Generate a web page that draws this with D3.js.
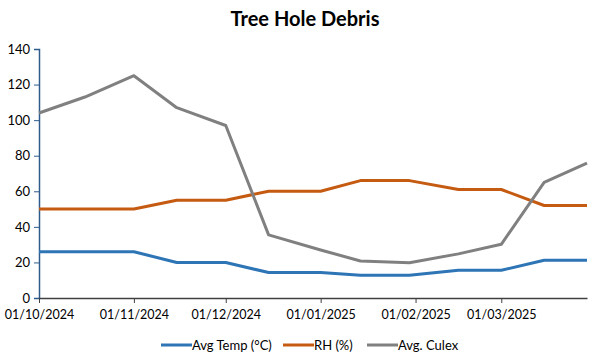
<!DOCTYPE html>
<html lang="en">
<head>
    <meta charset="UTF-8">
    <title>Tree Hole Debris</title>
    <script src="https://cdn.jsdelivr.net/npm/d3@7"></script>
    <style>
        body { margin: 0; background: #fff; }
        text { font-family: Lato, "Open Sans", sans-serif; fill: #000; }
    </style>
</head>
<body>
    <script>
        const dates = ['2024-10-01', '2024-10-16', '2024-11-01', '2024-11-15', '2024-12-01', '2024-12-15',
            '2025-01-01', '2025-01-14', '2025-01-30', '2025-02-15', '2025-03-01', '2025-03-15', '2025-03-29'];
        const avgTemp = [26, 26, 26, 20, 20, 14.3, 14.3, 12.8, 12.8, 15.6, 15.6, 21.2, 21.2];
        const rh = [50, 50, 50, 55, 55, 60, 60, 66, 66, 61, 61, 52, 52];
        const culex = [104, 113, 125, 107, 97, 35.5, 27, 20.8, 19.8, 24.8, 30.2, 65, 75.8];
        const yTicks = [0, 20, 40, 60, 80, 100, 120, 140];
        const series = [
            {name: 'Avg Temp (°C)', values: avgTemp, color: '#2e75b6'},
            {name: 'RH (%)', values: rh, color: '#c55a11'},
            {name: 'Avg. Culex', values: culex, color: '#808080'}
        ];

        const width = 594, height = 354;
        const parse = d3.timeParse('%Y-%m-%d');
        const dateObjs = dates.map(parse);

        const x = d3.scaleTime().domain([dateObjs[0], dateObjs[dateObjs.length - 1]]).range([39, 587]);
        const y = d3.scaleLinear().domain([0, 140]).range([298, 49]);

        const svg = d3.select('body').append('svg').attr('width', width).attr('height', height);

        svg.append('text').attr('x', 305).attr('y', 26).attr('text-anchor', 'middle')
            .style('font-size', '20px').style('font-weight', 'bold').text('Tree Hole Debris');

        // y axis
        const yAxis = svg.append('g').attr('transform', 'translate(39,0)')
            .call(d3.axisLeft(y).tickValues(yTicks).tickSize(5).tickPadding(4));
        yAxis.select('.domain').attr('stroke', '#2f5b8c').attr('stroke-width', 1.5);
        yAxis.selectAll('.tick line').attr('stroke', '#2f5b8c');
        yAxis.selectAll('text').style('font-size', '13px');

        // x axis
        const monthTicks = d3.timeMonth.range(dateObjs[0], dateObjs[dateObjs.length - 1]);
        const xAxis = svg.append('g').attr('transform', 'translate(0,298)')
            .call(d3.axisBottom(x).tickValues(monthTicks).tickFormat(d3.timeFormat('%d/%m/%Y')).tickSize(5).tickSizeOuter(0).tickPadding(7));
        xAxis.select('.domain').attr('stroke', '#404040').attr('stroke-width', 1.5);
        xAxis.selectAll('.tick line').attr('stroke', '#404040');
        xAxis.selectAll('text').style('font-size', '12.5px');

        const line = d3.line().x((d, i) => x(dateObjs[i])).y(d => y(d));
        svg.selectAll('path.series').data(series).enter().append('path')
            .attr('class', 'series')
            .attr('d', d => line(d.values))
            .attr('fill', 'none')
            .attr('stroke', d => d.color)
            .attr('stroke-width', 3)
            .attr('stroke-linejoin', 'round');

        // legend
        const legendX = [161, 283, 367];
        const legend = svg.selectAll('g.legend').data(series).enter().append('g')
            .attr('class', 'legend')
            .attr('transform', (d, i) => `translate(${legendX[i]},345)`);
        legend.append('line').attr('x1', 0).attr('x2', 31).attr('y1', 0).attr('y2', 0)
            .attr('stroke', d => d.color).attr('stroke-width', 3);
        legend.append('text').attr('x', 31).attr('y', 5).style('font-size', '13px').text(d => d.name);
    </script>
</body>
</html>
